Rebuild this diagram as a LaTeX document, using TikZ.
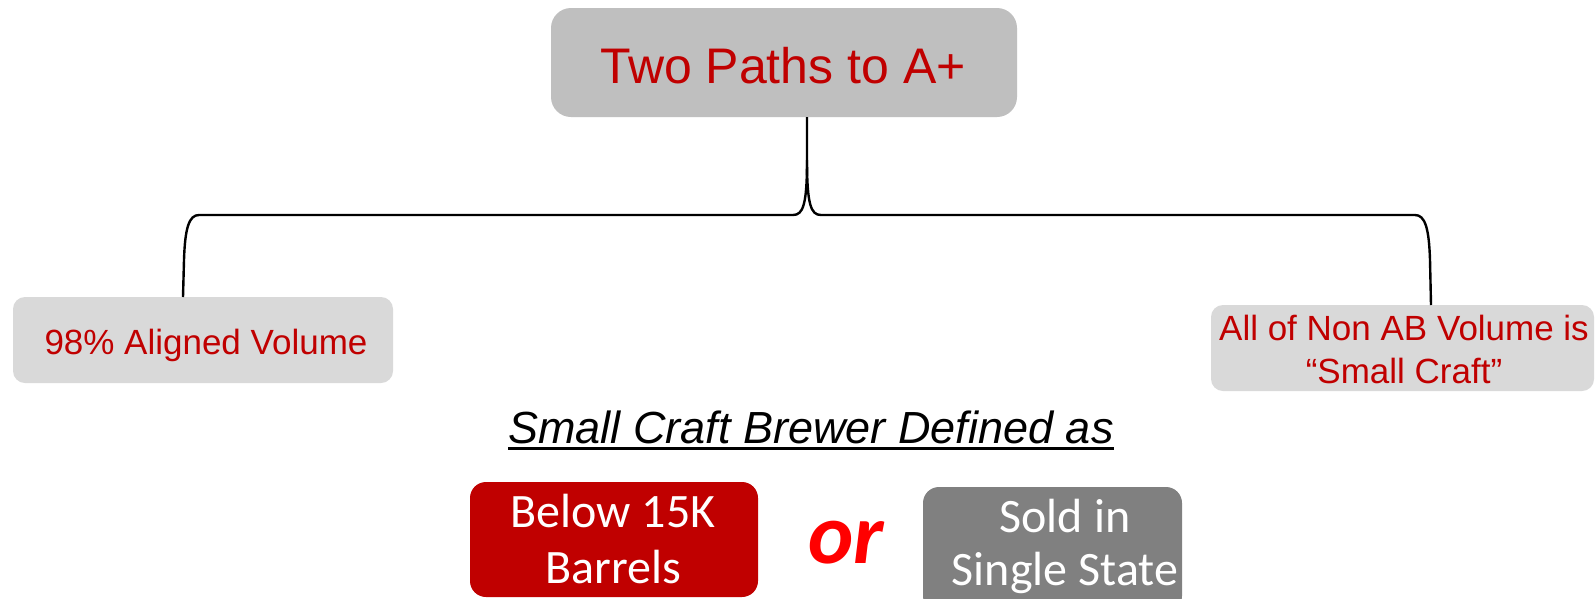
\documentclass[tikz,border=0pt]{standalone}
\usepackage{fontspec}
\setmainfont{Liberation Sans}
\newfontfamily\carlito{Carlito}
\definecolor{titlegray}{HTML}{BFBFBF}
\definecolor{lightgray}{HTML}{D9D9D9}
\definecolor{darkred}{HTML}{C00000}
\definecolor{midgray}{HTML}{808080}
\definecolor{brightred}{HTML}{FF0000}
\newcommand{\twolines}[2]{\begin{tabular}[t]{@{}c@{}}#1\\#2\end{tabular}}
\begin{document}
\begin{tikzpicture}[x=1pt,y=-1pt,
  box/.style={rounded corners=12pt, inner sep=0pt, outer sep=0pt, draw=none},
  txt/.style={anchor=base, inner sep=0pt, outer sep=0pt},
  brace/.style={draw=black, line width=2.4pt, line join=round}]
\clip (0,0) rectangle (1595,598);
\fill[white] (0,0) rectangle (1595,598);
% boxes
\node[box, rounded corners=20pt, fill=titlegray, minimum width=466pt, minimum height=109pt] (title) at (784,62.5) {};
\node[box, fill=lightgray, minimum width=380pt, minimum height=86pt] (lbox) at (203,340) {};
\node[box, fill=lightgray, minimum width=383pt, minimum height=86pt] (rbox) at (1402.5,348) {};
\node[box, rounded corners=16pt, fill=darkred, minimum width=288pt, minimum height=115pt] (redbox) at (614,539.5) {};
\node[box, rounded corners=16pt, fill=midgray, minimum width=259pt, minimum height=125pt] (graybox) at (1052.5,549.5) {};
% texts
\node[txt, text=darkred, font=\fontsize{50}{60}\selectfont] (titletext) at (783,83) {Two Paths to A+};
\node[txt, text=darkred, font=\fontsize{35}{42}\selectfont] (ltext) at (206,354) {98\% Aligned Volume};
\node[txt, text=darkred, font=\fontsize{35}{43}\selectfont] (rtext) at (1404,340) {\twolines{All of Non AB Volume is}{“Small Craft”}};
\node[txt, font=\itshape\fontsize{45}{54}\selectfont] (heading) at (811,443) {Small Craft Brewer Defined as};
\draw[line width=2.6pt] ([yshift=-5.5pt]heading.base west) -- ([yshift=-5.5pt]heading.base east);
\node[txt, text=white, font=\carlito\fontsize{48}{56}\selectfont] (redtext) at (613,527) {\twolines{Below 15K}{Barrels}};
\node[txt, text=white, font=\carlito\fontsize{48}{53}\selectfont] (graytext) at (1065,532) {\twolines{Sold in}{Single State}};
\node[txt, text=brightred, font=\carlito\bfseries\itshape\fontsize{86}{100}\selectfont] (or) at (846,563) {or};
% brace connector
\coordinate (stem) at (807,117);
\coordinate (lend) at (183,297);
\coordinate (rend) at (1431,305);
\draw[brace] (stem) -- (807,160) .. controls (807,205) and (803,215) .. (793,215) -- (199,215)
  .. controls (189,215) and (185,228) .. (184,260) -- (lend);
\draw[brace] (807,160) .. controls (807,205) and (811,215) .. (821,215) -- (1415,215)
  .. controls (1425,215) and (1429,228) .. (1430,260) -- (rend);
\end{tikzpicture}
\end{document}
